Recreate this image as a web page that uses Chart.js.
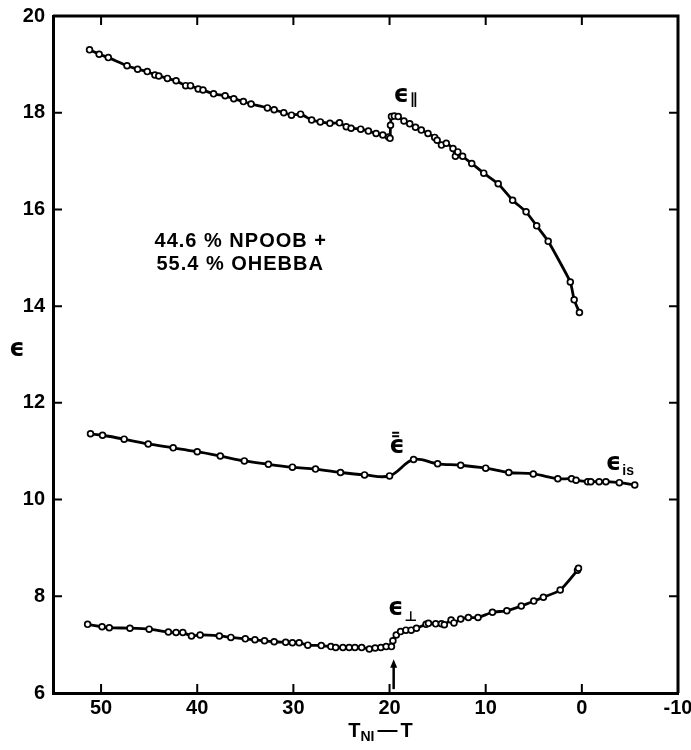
<!DOCTYPE html>
<html><head><meta charset="utf-8">
<script src="https://cdn.jsdelivr.net/npm/chart.js@4/dist/chart.umd.min.js"></script>
<style>html,body{margin:0;padding:0;background:#fff}#wrap{width:691px;height:750px}</style>
</head><body><div id="wrap"><canvas id="c" width="691" height="750"></canvas></div>
<script>
const xTicks = [50, 40, 30, 20, 10, 0, -10];
const yTicks = [6, 8, 10, 12, 14, 16, 18, 20];

// epsilon parallel
const parX = [51.2,50.2,49.25,47.3,46.2,45.2,44.4,44.0,43.1,42.2,41.2,40.7,39.9,39.4,38.3,37.1,36.2,35.2,34.4,32.7,32.0,31.0,30.2,29.25,28.1,27.2,26.2,25.2,24.5,24.0,23.0,22.2,21.4,20.7,20.1,19.95,19.9,19.8,19.5,19.1,18.5,17.9,17.3,16.7,16.0,15.3,15.05,14.6,14.1,13.4,13.15,12.9,12.4,11.45,10.2,8.7,7.2,5.8,4.7,3.5,1.2,0.8,0.25];
const parY = [19.30,19.21,19.14,18.97,18.90,18.85,18.78,18.76,18.71,18.66,18.56,18.56,18.49,18.47,18.39,18.35,18.29,18.23,18.18,18.10,18.06,18.00,17.95,17.97,17.85,17.81,17.78,17.79,17.71,17.68,17.66,17.62,17.57,17.54,17.50,17.47,17.74,17.92,17.93,17.92,17.83,17.77,17.70,17.64,17.57,17.49,17.43,17.33,17.37,17.26,17.10,17.19,17.10,16.95,16.75,16.53,16.19,15.95,15.66,15.34,14.50,14.13,13.87];

// mean epsilon / isotropic
const avgX = [51.1,49.85,47.6,45.1,42.5,40.0,37.6,35.1,32.6,30.1,27.7,25.1,22.6,20.0,17.5,15.0,12.6,10.0,7.6,5.05,2.5,1.07,0.6,-0.6,-0.93,-1.8,-2.5,-3.9,-5.5];
const avgY = [11.36,11.33,11.25,11.15,11.07,10.99,10.90,10.80,10.73,10.67,10.63,10.56,10.51,10.49,10.83,10.74,10.71,10.65,10.56,10.53,10.43,10.43,10.40,10.37,10.37,10.37,10.37,10.35,10.30];

// epsilon perpendicular
const perpX = [51.4,49.9,49.15,47.0,45.0,43.0,42.2,41.5,40.6,39.7,37.7,36.5,35.0,34.0,33.0,32.0,30.8,30.1,29.4,28.5,27.1,26.1,25.6,24.85,24.2,23.6,22.9,22.1,21.5,20.9,20.35,19.8,19.65,19.3,18.85,18.3,17.75,17.2,16.2,15.95,15.2,14.6,14.3,13.6,13.3,12.6,11.8,10.8,9.3,7.8,6.3,5.0,4.0,2.25,0.45,0.35];
const perpY = [7.42,7.37,7.35,7.34,7.32,7.26,7.25,7.25,7.18,7.20,7.18,7.15,7.12,7.10,7.08,7.06,7.05,7.04,7.04,6.99,6.98,6.96,6.94,6.94,6.94,6.94,6.94,6.91,6.93,6.94,6.96,6.96,7.08,7.20,7.27,7.30,7.30,7.34,7.42,7.44,7.43,7.43,7.41,7.51,7.45,7.53,7.56,7.56,7.67,7.70,7.80,7.90,7.98,8.13,8.54,8.58];

const sampleLine1 = '44.6 % NPOOB +';
const sampleLine2 = '55.4 % OHEBBA';

function pts(xs, ys){ return xs.map((x,i)=>({x:x, y:ys[i]})); }
function ds(xs, ys, t){
  return {data: pts(xs,ys), showLine:true, borderColor:'#000', borderWidth:2.8, tension:t,
    pointRadius:2.9, pointBorderWidth:1.7, pointBackgroundColor:'#fff', pointBorderColor:'#000', clip:false};
}

const LBL = 'bold 20px "Liberation Sans", Arial, sans-serif';
const GRK = 'bold 24px "DejaVu Sans", sans-serif';

function epsLabel(ctx, x, y, sub, subDy, subFont){
  ctx.font = GRK; ctx.textAlign='left'; ctx.textBaseline='alphabetic';
  ctx.fillText('\u03F5', x, y);
  const w = ctx.measureText('\u03F5').width;
  if (sub){ ctx.font = subFont || 'bold 14px "DejaVu Sans", sans-serif'; ctx.fillText(sub, x + w + 1, y + subDy); }
  return w;
}

const annot = {
  id:'annot',
  afterDraw(chart){
    const ctx = chart.ctx, xs = chart.scales.x, ys = chart.scales.y, a = chart.chartArea;
    const X = v => xs.getPixelForValue(v), Y = v => ys.getPixelForValue(v);
    ctx.save();
    ctx.strokeStyle='#000'; ctx.fillStyle='#000';
    ctx.lineWidth = 3;
    ctx.beginPath(); ctx.moveTo(a.left, a.top); ctx.lineTo(a.right, a.top); ctx.lineTo(a.right, a.bottom); ctx.stroke();
    ctx.lineWidth = 2;
    ctx.beginPath();
    xTicks.forEach(v=>{ const p = X(v); ctx.moveTo(p, a.bottom); ctx.lineTo(p, a.bottom-9); ctx.moveTo(p, a.top); ctx.lineTo(p, a.top+9); });
    yTicks.forEach(v=>{ const p = Y(v); ctx.moveTo(a.left, p); ctx.lineTo(a.left+9, p); ctx.moveTo(a.right, p); ctx.lineTo(a.right-9, p); });
    ctx.stroke();

    // curve labels
    epsLabel(ctx, X(19.6), Y(18.22), '\u2225', 2, 'bold 15px "DejaVu Sans", sans-serif');
    epsLabel(ctx, X(20.04), Y(10.96));
    ctx.lineWidth = 2;
    ctx.beginPath();
    const bx = X(20.04) + 3;
    ctx.moveTo(bx, Y(11.31)); ctx.lineTo(bx + 7, Y(11.31));
    ctx.moveTo(bx, Y(11.38)); ctx.lineTo(bx + 7, Y(11.38));
    ctx.stroke();
    epsLabel(ctx, X(-2.49), Y(10.61), 'is', 5, 'bold 14px "Liberation Sans", sans-serif');
    epsLabel(ctx, X(20.15), Y(7.61), '\u22A5', 6, 'bold 14px "DejaVu Sans", sans-serif');

    // sample text
    ctx.font = LBL; ctx.textAlign='left'; ctx.textBaseline='alphabetic';
    ctx.letterSpacing = '1px';
    ctx.fillText(sampleLine1, X(44.44), Y(15.22));
    ctx.fillText(sampleLine2, X(44.24), Y(14.75));
    ctx.letterSpacing = '0px';

    // arrow at transition
    const ax = X(19.57);
    ctx.lineWidth = 2.5;
    ctx.beginPath(); ctx.moveTo(ax, Y(6.08)); ctx.lineTo(ax, Y(6.55)); ctx.stroke();
    ctx.beginPath(); ctx.moveTo(ax, Y(6.70)); ctx.lineTo(ax-3.5, Y(6.52)); ctx.lineTo(ax+3.5, Y(6.52)); ctx.closePath(); ctx.fill();

    // axis titles
    ctx.font = GRK; ctx.textAlign='center'; ctx.textBaseline='middle';
    ctx.fillText('\u03F5', a.left - 36, Y(13.1));
    ctx.textAlign='left'; ctx.textBaseline='alphabetic';
    let tx = X(24.3); const ty = 737;
    ctx.font = LBL; ctx.fillText('T', tx, ty); tx += ctx.measureText('T').width;
    ctx.font = 'bold 14px "Liberation Sans", sans-serif'; ctx.fillText('NI', tx, ty + 4); tx += ctx.measureText('NI').width + 3;
    ctx.font = LBL; ctx.fillText('\u2014', tx, ty - 1); tx += ctx.measureText('\u2014').width + 3;
    ctx.fillText('T', tx, ty);
    ctx.restore();
  }
};

new Chart(document.getElementById('c'), {
  type: 'scatter',
  data: { datasets: [ ds(parX, parY, 0.15), ds(avgX, avgY, 0.35), ds(perpX, perpY, 0.2) ] },
  options: {
    responsive: false, animation: false, devicePixelRatio: 1,
    layout: { padding: { left: 0, top: 16, right: 13, bottom: 0 } },
    plugins: { legend: { display: false }, tooltip: { enabled: false } },
    scales: {
      x: {
        type: 'linear', min: -10, max: 55, reverse: true,
        grid: { display: false, drawTicks: false },
        border: { display: true, width: 3, color: '#000' },
        afterBuildTicks: s => { s.ticks = xTicks.map(v => ({ value: v })); },
        afterFit: s => { s.height = 57; s.paddingLeft = 0; s.paddingRight = 0; },
        ticks: { color: '#000', font: { family: '"Liberation Sans", Arial, sans-serif', size: 20, weight: 'bold' }, padding: 3, maxRotation: 0, autoSkip: false,
          callback: v => String(v) }
      },
      y: {
        type: 'linear', min: 6, max: 20,
        grid: { display: false, drawTicks: false },
        border: { display: true, width: 3, color: '#000' },
        afterBuildTicks: s => { s.ticks = yTicks.map(v => ({ value: v })); },
        afterFit: s => { s.width = 53; s.paddingTop = 0; s.paddingBottom = 0; },
        ticks: { color: '#000', font: { family: '"Liberation Sans", Arial, sans-serif', size: 20, weight: 'bold' }, padding: 8, autoSkip: false,
          callback: v => String(v) }
      }
    }
  },
  plugins: [annot]
});
</script>
</body></html>
